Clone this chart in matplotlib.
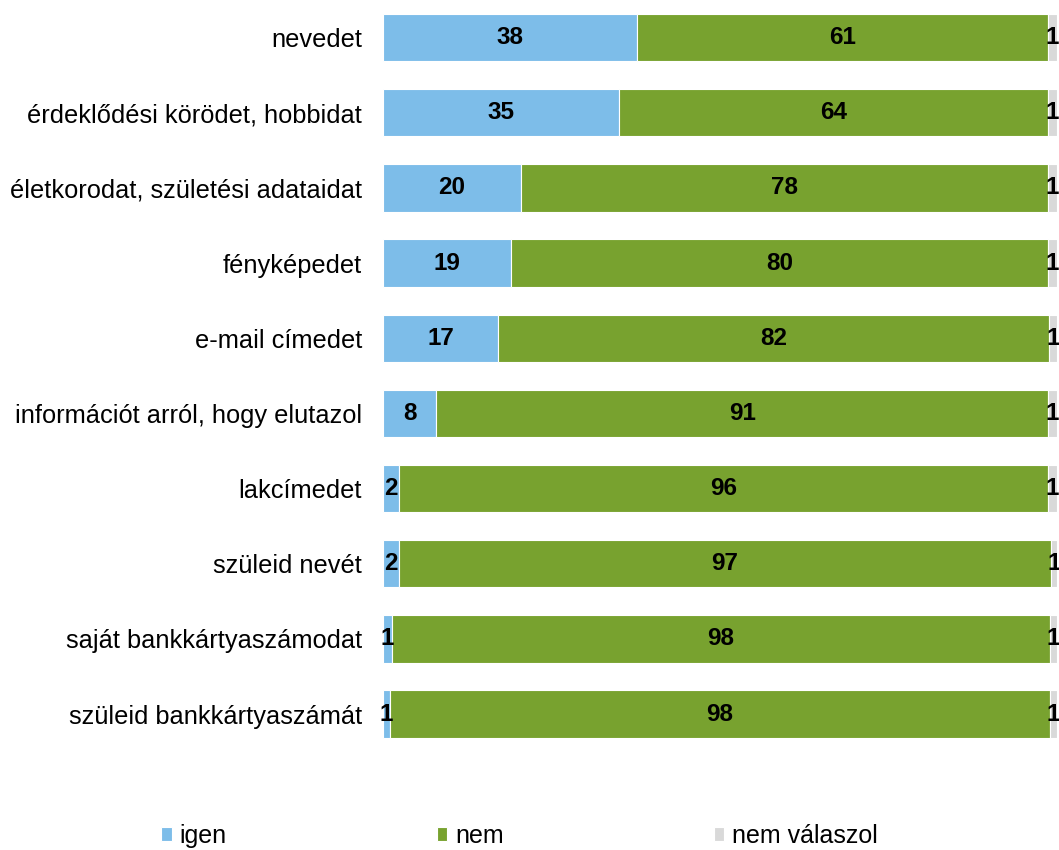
import matplotlib
matplotlib.use("Agg")
import matplotlib.pyplot as plt
import numpy as np

categories = [
    "nevedet",
    "érdeklődési körödet, hobbidat",
    "életkorodat, születési adataidat",
    "fényképedet",
    "e-mail címedet",
    "információt arról, hogy elutazol",
    "lakcímedet",
    "szüleid nevét",
    "saját bankkártyaszámodat",
    "szüleid bankkártyaszámát",
]
igen = [37.7, 35.0, 20.5, 19.0, 17.1, 7.9, 2.4, 2.3, 1.3, 1.0]
nem = [60.9, 63.7, 78.1, 79.7, 81.7, 90.8, 96.3, 96.8, 97.6, 97.9]
nem_valaszol = [1.4, 1.3, 1.4, 1.3, 1.2, 1.3, 1.3, 0.9, 1.1, 1.1]
series_names = ["igen", "nem", "nem válaszol"]
colors = ["#7DBDE9", "#78A22F", "#D9D9D9"]

plt.rcParams["font.family"] = ["Liberation Sans", "DejaVu Sans"]

fig = plt.figure(figsize=(10.59, 8.50), dpi=100)
ax = fig.add_axes([383 / 1059, 1 - 751.7 / 850, 674 / 1059, 751.7 / 850])

y = np.arange(len(categories))
left = np.zeros(len(categories))
containers = []
for name, vals, col in zip(series_names, [igen, nem, nem_valaszol], colors):
    vals = np.array(vals)
    bc = ax.barh(y, vals, left=left, height=0.63, color=col, label=name,
                 edgecolor="white", linewidth=0.8)
    containers.append(bc)
    for yi, (l, v) in enumerate(zip(left, vals)):
        ax.text(l + v / 2, yi, f"{v:.0f}", ha="center", va="center",
                fontsize=17.5, fontweight="bold", color="black", clip_on=False)
    left = left + vals

ax.set_xlim(0, 100)
ax.set_ylim(len(categories) - 0.5, -0.5)
ax.set_yticks(y)
ax.set_yticklabels(categories, fontsize=18.3)
ax.tick_params(axis="y", length=0, pad=15)
ax.set_xticks([])
for s in ax.spines.values():
    s.set_visible(False)

fig.legend(handles=containers, labels=series_names, loc="center left",
           bbox_to_anchor=(161 / 1059, 1 - 836 / 850), ncol=3, frameon=False,
           fontsize=18, handlelength=0.42, handleheight=0.46,
           handletextpad=0.32, columnspacing=8.4, borderaxespad=0, borderpad=0)

fig.savefig("out.png", dpi=100)
